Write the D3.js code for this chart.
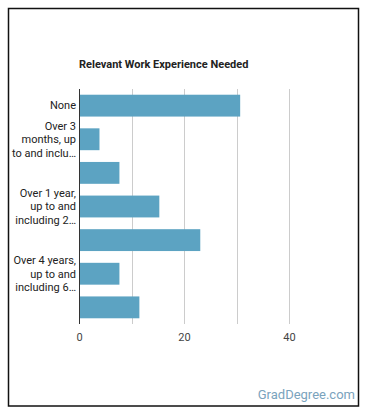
<!DOCTYPE html>
<html>
<head>
<meta charset="utf-8">
<script src="https://cdn.jsdelivr.net/npm/d3@7"></script>
<style>
  body { margin: 0; background: #fff; }
  text { font-family: Roboto, "Noto Sans", sans-serif; }
</style>
</head>
<body>
<script>
// data
var categories = [
  "None",
  "Over 3 months, up to and including 6 months",
  "Over 6 months, up to and including 1 year",
  "Over 1 year, up to and including 2 years",
  "Over 2 years, up to and including 4 years",
  "Over 4 years, up to and including 6 years",
  "Over 6 years, up to and including 8 years"
];
// label lines as the chart wraps / truncates them (every other category shown)
var labelLines = [
  ["None"],
  ["Over 3", "months, up", "to and inclu\u2026"],
  null,
  ["Over 1 year,", "up to and", "including 2\u2026"],
  null,
  ["Over 4 years,", "up to and", "including 6\u2026"],
  null
];
var values = [30.7, 3.9, 7.7, 15.3, 23.1, 7.7, 11.5];
var xTicks = [0, 20, 40];
var gridTicks = [10, 20, 30, 40];

var w = 370, h = 417;
var margin = {top: 89, left: 79, bottom: 93},
    plotH = h - margin.top - margin.bottom;

var svg = d3.select("body").append("svg")
    .attr("width", w)
    .attr("height", h);

// frame
svg.append("rect")
    .attr("x", 8.5).attr("y", 8.5)
    .attr("width", 350).attr("height", 397.5)
    .attr("fill", "#fff")
    .attr("stroke", "#111")
    .attr("stroke-width", 1.5);

var xScale = d3.scaleLinear()
    .domain([0, 40])
    .range([margin.left, 289]);

var yScale = d3.scaleBand()
    .domain(categories)
    .range([margin.top, margin.top + plotH])
    .paddingInner(0.35)
    .paddingOuter(0.17);

// title
svg.append("text")
    .attr("x", margin.left)
    .attr("y", 64)
    .attr("dy", "0.35em")
    .attr("font-size", 11)
    .attr("font-weight", "bold")
    .attr("fill", "#222")
    .text("Relevant Work Experience Needed");

// gridlines
svg.append("g")
  .selectAll("line")
    .data(gridTicks)
  .enter().append("line")
    .attr("x1", function(d) { return Math.round(xScale(d)) + 0.5; })
    .attr("x2", function(d) { return Math.round(xScale(d)) + 0.5; })
    .attr("y1", margin.top)
    .attr("y2", margin.top + plotH)
    .attr("stroke", "#ccc");

// bars
svg.append("g")
  .selectAll("rect")
    .data(values)
  .enter().append("rect")
    .attr("x", xScale(0))
    .attr("y", function(d, i) { return yScale(categories[i]); })
    .attr("width", function(d) { return xScale(d) - xScale(0); })
    .attr("height", yScale.bandwidth())
    .attr("fill", "#5ca3c2");

// baseline
svg.append("line")
    .attr("x1", xScale(0) + 0.5).attr("x2", xScale(0) + 0.5)
    .attr("y1", margin.top).attr("y2", margin.top + plotH)
    .attr("stroke", "#333");

// x axis labels
var xAxis = svg.append("g")
    .attr("transform", "translate(0," + (margin.top + plotH) + ")")
    .call(d3.axisBottom(xScale).tickValues(xTicks).tickSize(0).tickPadding(9));
xAxis.select(".domain").remove();
xAxis.selectAll("text")
    .attr("font-family", "Roboto, sans-serif")
    .attr("font-size", 11)
    .attr("fill", "#444");

// category labels
var lineH = 13.5;
var labels = svg.append("g")
  .selectAll("text")
    .data(categories.map(function(c, i) { return {c: c, lines: labelLines[i]}; })
      .filter(function(d) { return d.lines; }))
  .enter().append("text")
    .attr("text-anchor", "end")
    .attr("font-size", 11)
    .attr("fill", "#222");

labels.each(function(d) {
  var cy = yScale(d.c) + yScale.bandwidth() / 2;
  var n = d.lines.length;
  d3.select(this).selectAll("tspan")
      .data(d.lines)
    .enter().append("tspan")
      .attr("x", 76)
      .attr("y", function(t, j) { return cy + (j - (n - 1) / 2) * lineH; })
      .attr("dy", "0.35em")
      .text(function(t) { return t; });
});

// watermark
svg.append("text")
    .attr("x", 355)
    .attr("y", 394)
    .attr("dy", "0.35em")
    .attr("text-anchor", "end")
    .attr("font-size", 13)
    .attr("fill", "#7aa3bd")
    .text("GradDegree.com");
</script>
</body>
</html>
